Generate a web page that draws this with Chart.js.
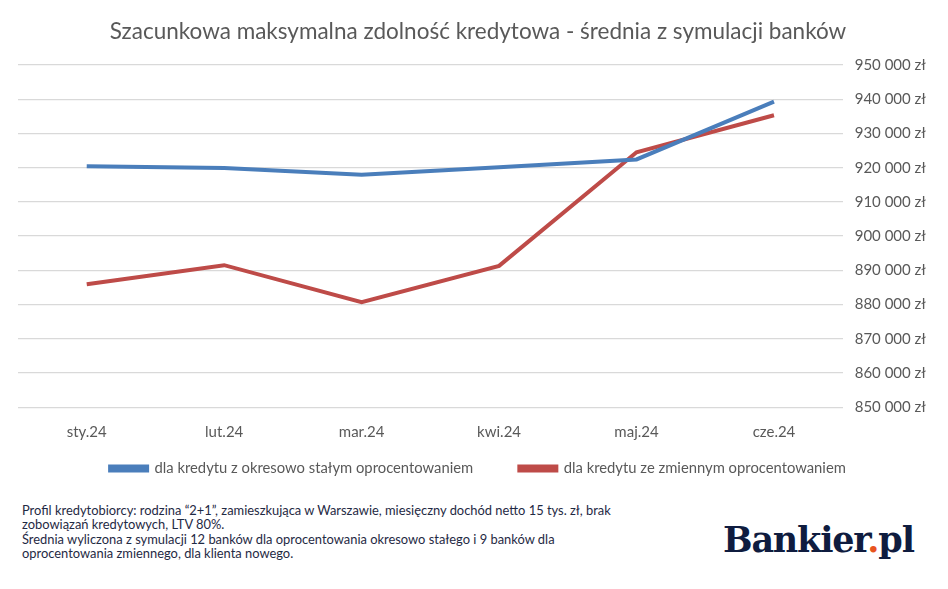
<!DOCTYPE html>
<html>
<head>
<meta charset="utf-8">
<script src="https://cdn.jsdelivr.net/npm/chart.js@4/dist/chart.umd.min.js"></script>
<style>
  body { margin: 0; background: #fff; width: 948px; height: 589px; overflow: hidden; position: relative; }
  #wrap { position: absolute; left: 0; top: 0; width: 948px; height: 486px; }
  #note { position: absolute; left: 22px; top: 503px; width: 620px; font-family: Lato, "Liberation Sans", sans-serif; font-size: 12.9px; line-height: 14.3px; color: #1f2a44; }
  #logo { position: absolute; left: 723px; top: 519px; font-family: "DejaVu Serif", "Liberation Serif", serif; font-weight: bold; font-size: 35px; letter-spacing: -1.2px; color: #0f1c3f; }
  #logo span { color: #e8541e; }
</style>
</head>
<body>
<div id="wrap"><canvas id="myChart"></canvas></div>
<div id="note">Profil kredytobiorcy: rodzina “2+1”, zamieszkująca w Warszawie, miesięczny dochód netto 15 tys. zł, brak<br>zobowiązań kredytowych, LTV 80%.<br>Średnia wyliczona z symulacji 12 banków dla oprocentowania okresowo stałego i 9 banków dla<br>oprocentowania zmiennego, dla klienta nowego.</div>
<div id="logo">Bankier<span>.</span>pl</div>
<script>
const months = ['sty.24', 'lut.24', 'mar.24', 'kwi.24', 'maj.24', 'cze.24'];
const fixedRate = [920400, 919900, 917900, 920100, 922400, 939300];
const variableRate = [885900, 891500, 880700, 891300, 924500, 935300];
const seriesNames = ['dla kredytu z okresowo stałym oprocentowaniem', 'dla kredytu ze zmiennym oprocentowaniem'];

const fontName = 'Lato, "Liberation Sans", sans-serif';

function fmt(v) {
  return String(v).replace(/\B(?=(\d{3})+(?!\d))/g, ' ') + ' zł';
}

const ctx = document.getElementById('myChart');

const myChart = new Chart(ctx, {
  type: 'line',
  data: {
    labels: months,
    datasets: [{
      label: seriesNames[0],
      data: fixedRate,
      borderColor: '#4a7ebb',
      backgroundColor: '#4a7ebb',
      borderWidth: 4,
      pointRadius: 0,
      tension: 0
    }, {
      label: seriesNames[1],
      data: variableRate,
      borderColor: '#be4b48',
      backgroundColor: '#be4b48',
      borderWidth: 4,
      pointRadius: 0,
      tension: 0
    }]
  },
  options: {
    responsive: true,
    maintainAspectRatio: false,
    animation: false,
    layout: { padding: { left: 18, right: 10, top: 13, bottom: 0 } },
    plugins: {
      title: {
        display: true,
        text: 'Szacunkowa maksymalna zdolność kredytowa - średnia z symulacji banków',
        color: '#595959',
        font: { family: 'Lato, "Open Sans", sans-serif', size: 22.5, weight: 'normal' },
        padding: { top: 5, bottom: 20 }
      },
      legend: {
        position: 'bottom',
        labels: {
          color: '#595959',
          font: { family: fontName, size: 14.8 },
          boxWidth: 37,
          boxHeight: 4,
          padding: 12,
          // wider gap between the two legend entries, like the original
          generateLabels: (chart) => {
            const items = Chart.defaults.plugins.legend.labels.generateLabels(chart);
            items[0].text += '         ';
            return items;
          }
        }
      },
      tooltip: { enabled: false }
    },
    scales: {
      x: {
        offset: true,
        grid: { display: false },
        border: { display: false },
        ticks: { color: '#595959', font: { family: fontName, size: 15 }, padding: 8 }
      },
      y: {
        position: 'right',
        min: 850000,
        max: 950000,
        grid: { color: '#d9d9d9', lineWidth: 1.3, drawTicks: false },
        border: { display: false },
        ticks: {
          stepSize: 10000,
          color: '#595959',
          font: { family: fontName, size: 15 },
          padding: 12,
          callback: (v) => fmt(v)
        }
      }
    }
  }
});
</script>
</body>
</html>
